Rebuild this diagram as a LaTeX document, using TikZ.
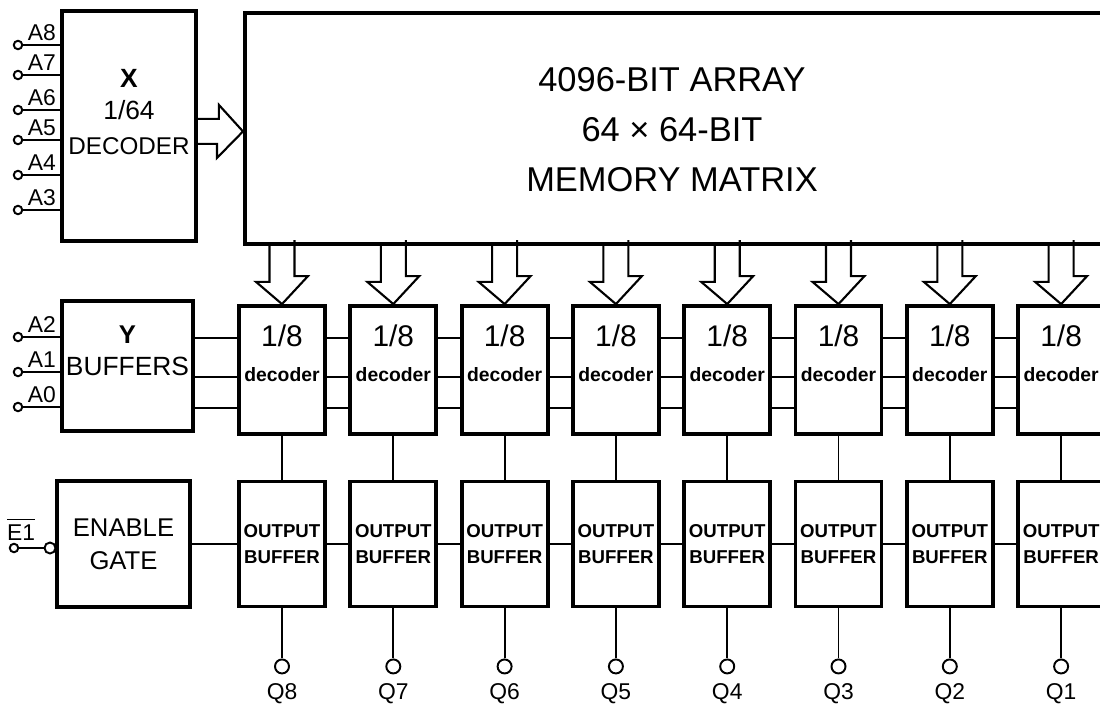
\documentclass[tikz,border=0pt]{standalone}
\usepackage{fontspec}
\setmainfont{Liberation Sans}
\usetikzlibrary{positioning, calc}

\begin{document}
\begin{tikzpicture}[
  box/.style    = {rectangle, draw=black, line width=1.1pt, inner sep=0pt},
  dectxt/.style = {align=center, inner sep=0pt},
  dec/.style    = {box, minimum width=0.86cm, minimum height=1.28cm,
                   label={[dectxt, yshift=0.17cm]center:{\fontsize{8.5}{9}\selectfont 1/8\\[-2pt]\fontsize{5.5}{6}\selectfont\bfseries decoder}}},
  outbuf/.style = {box, minimum width=0.86cm, minimum height=1.25cm, align=center,
                   font=\fontsize{5.3}{7.4}\selectfont\bfseries},
  bigtxt/.style = {align=center, inner sep=0pt, font=\fontsize{7.5}{9}\selectfont},
  arrtxt/.style = {align=center, inner sep=0pt, font=\fontsize{9.8}{14.2}\selectfont},
  pin/.style    = {circle, draw, line width=0.55pt, minimum size=0.085cm, inner sep=0pt, fill=white},
  qpin/.style   = {pin, minimum size=0.14cm},
  wire/.style   = {line width=0.55pt},
  hollow/.style = {line width=0.6pt, line join=miter},
  alab/.style   = {font=\fontsize{6.5}{7}\selectfont, inner sep=1pt, anchor=south east},
  qlab/.style   = {font=\fontsize{6.5}{7}\selectfont, inner sep=0pt},
]
  \useasboundingbox (0,0) rectangle (11,-7.1);
  \clip (0,0) rectangle (11,-7.1);

  % address side
  \node[box, minimum width=1.34cm, minimum height=2.30cm,
        label={[bigtxt, yshift=0.14cm]center:{\textbf{X}\\1/64\\[1pt]\fontsize{6.9}{9}\selectfont DECODER}}] (xdec) at (1.29,-1.26) {};
  \node[box, minimum width=1.31cm, minimum height=1.30cm,
        label={[bigtxt, yshift=0.15cm]center:{\fontsize{7.3}{11.4}\selectfont\textbf{Y}\\BUFFERS}}] (ybuf) at (1.275,-3.66) {};
  \node[box, minimum width=1.33cm, minimum height=1.26cm, align=center,
        font=\fontsize{7.3}{9.4}\selectfont] (en) at (1.235,-5.44) {ENABLE\\GATE};

  % memory matrix
  \node[box, anchor=north west, minimum width=9cm, minimum height=2.31cm] (arr) at (2.43,-0.11) {};
  \node[arrtxt] (mtxt) at (6.72,-1.30) {4096-BIT ARRAY\\64 × 64-BIT\\MEMORY MATRIX};

  \coordinate (xtip) at ($(arr.west)+(0,-0.03)$);
  \draw[hollow] (xtip -| xdec.east) ++(0,0.125) -- ++(0.21,0) -- ++(0,0.14) -- (xtip)
    -- ++(-0.26,-0.265) -- ++(0,0.14) -- ++(-0.21,0);

  % address inputs
  \foreach \n/\yy in {8/0.45, 7/0.75, 6/1.10, 5/1.40, 4/1.75, 3/2.10} {
    \node[pin] (a\n) at (0.18,-\yy) {};
    \draw[wire] (a\n) -- (a\n -| xdec.west);
    \node[alab] (la\n) at (a\n -| xdec.west) {A\n};
  }
  \foreach \n/\yy in {2/3.37, 1/3.72, 0/4.07} {
    \node[pin] (a\n) at (0.18,-\yy) {};
    \draw[wire] (a\n) -- (a\n -| ybuf.west);
    \node[alab] (la\n) at (a\n -| ybuf.west) {A\n};
  }

  % enable input
  \node[pin] (ein) at (0.14,-5.48) {};
  \node[pin, minimum size=0.11cm] (ebub) at (0.50,-5.48) {};
  \draw[wire] (ein) -- (ebub);
  \node[qlab, anchor=south] (le1) at (0.21,-5.41) {$\overline{\mbox{E1}}$};

  % column decoders and output buffers
  \foreach \i [evaluate=\i as \xx using 2.82+(\i-1)*1.113,
               evaluate=\i as \k using int(9-\i)] in {1,...,8} {
    \node[dec] (d\i) at (\xx,-3.70) {};
    \node[outbuf] (o\i) at (\xx,-5.44) {OUTPUT\\BUFFER};
    \draw[hollow] (arr.south -| d\i.north) ++(-0.125,0) -- ++(0,-0.36) -- ++(-0.135,0)
      -- (d\i.north) -- ++(0.26,0.28) -- ++(-0.135,0) -- ++(0,0.36);
    \draw[wire] (d\i) -- (o\i);
    \node[qpin] (q\i) at ($(o\i.south)+(0,-0.58)$) {};
    \draw[wire] (o\i) -- (q\i);
    \node[qlab] (lq\i) at ($(q\i)+(0,-0.27)$) {Q\k};
  }

  \foreach \yy in {3.38, 3.77, 4.08}
    \draw[wire] (ybuf.east |- 0,-\yy) -- (d1.west |- 0,-\yy);
  \draw[wire] (en) -- (o1);
  \foreach \i [count=\j from 2] in {1,...,7} {
    \foreach \yy in {3.38, 3.77, 4.08}
      \draw[wire] (d\i.east |- 0,-\yy) -- (d\j.west |- 0,-\yy);
    \draw[wire] (o\i) -- (o\j);
  }
\end{tikzpicture}
\end{document}
